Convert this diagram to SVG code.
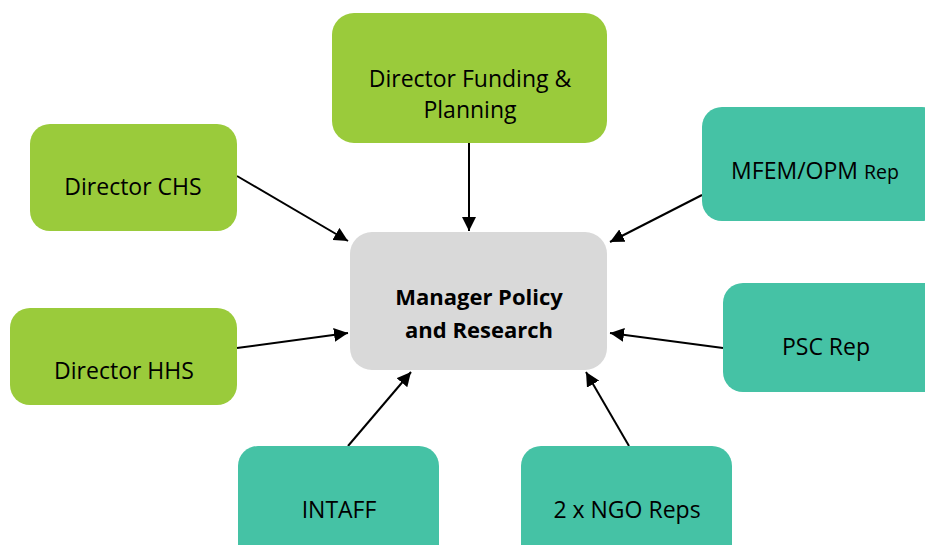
<svg xmlns="http://www.w3.org/2000/svg" width="925" height="545" viewBox="0 0 925 545">
<defs>
<style>
.g{fill:#9ACB3B}
.t{fill:#45C2A5}
.m{fill:#D9D9D9}
text{font-family:"Open Sans","Liberation Sans",sans-serif;font-size:23px;fill:#000;text-anchor:middle}
.b{font-weight:bold;font-size:22px}
.c{stroke:#000;stroke-width:2;fill:none;marker-end:url(#ah)}
</style>
<marker id="ah" viewBox="0 0 10 10" refX="10" refY="5" markerWidth="7" markerHeight="7" orient="auto" markerUnits="strokeWidth">
<path d="M0,0L10,5L0,10z" fill="#000"/>
</marker>
</defs>
<rect width="925" height="545" fill="#fff"/>
<g id="connectors">
<line class="c" x1="469" y1="143" x2="469" y2="231"/>
<line class="c" x1="237" y1="176" x2="348" y2="241"/>
<line class="c" x1="237" y1="348" x2="348" y2="333"/>
<line class="c" x1="702" y1="195" x2="610" y2="242"/>
<line class="c" x1="723" y1="348" x2="610" y2="333"/>
<line class="c" x1="348" y1="446" x2="411" y2="372"/>
<line class="c" x1="629" y1="446" x2="586" y2="372"/>
</g>
<g id="funding"><rect class="g" x="332" y="13" width="275" height="130" rx="22"/><text x="470" y="87">Director Funding &amp;</text><text x="470" y="118">Planning</text></g>
<g id="chs"><rect class="g" x="30" y="124" width="207" height="107" rx="20"/><text x="133" y="195">Director CHS</text></g>
<g id="hhs"><rect class="g" x="10" y="308" width="227" height="97" rx="20"/><text x="124" y="379">Director HHS</text></g>
<g id="mfem"><rect class="t" x="702" y="107" width="240" height="114" rx="20"/><text x="815" y="179">MFEM/OPM <tspan style="font-size:19.5px">Rep</tspan></text></g>
<g id="psc"><rect class="t" x="723" y="283" width="220" height="109" rx="20"/><text x="826" y="355">PSC Rep</text></g>
<g id="intaff"><rect class="t" x="238" y="446" width="201" height="120" rx="20"/><text x="339" y="518">INTAFF</text></g>
<g id="ngo"><rect class="t" x="521" y="446" width="211" height="120" rx="20"/><text x="627" y="518">2 x NGO Reps</text></g>
<g id="manager"><rect class="m" x="350" y="232" width="257" height="138" rx="22"/><text class="b" x="479" y="305">Manager Policy</text><text class="b" x="479" y="338">and Research</text></g>
</svg>
